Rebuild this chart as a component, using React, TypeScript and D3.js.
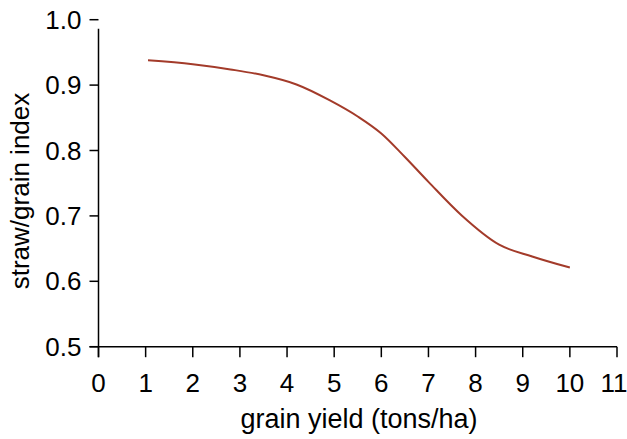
import React from "react";
import * as d3 from "d3";

const yieldTons = [1.05, 2, 2.8, 3.5, 4.2, 4.9, 5.5, 6.0, 6.5, 7.0, 7.7, 8.5, 9.2, 10.0];
const strawIndex = [0.938, 0.932, 0.924, 0.915, 0.901, 0.877, 0.852, 0.826, 0.79, 0.752, 0.701, 0.656, 0.638, 0.621];
const xTicks = [0, 1, 2, 3, 4, 5, 6, 7, 8, 9, 10, 11];
const yTicks = [0.5, 0.6, 0.7, 0.8, 0.9, 1.0];
const xTitle = "grain yield (tons/ha)";
const yTitle = "straw/grain index";

const W = 627;
const H = 439;
const FONT = "'Liberation Sans', Arial, Helvetica, sans-serif";

export default function App() {
  const x = d3.scaleLinear().domain([0, 11]).range([98.5, 617]);
  const y = d3.scaleLinear().domain([0.5, 1.0]).range([346.7, 19.7]);
  const line = d3
    .line<number>()
    .x((_, i) => x(yieldTons[i]))
    .y((d) => y(d))
    .curve(d3.curveMonotoneX);
  const x0 = x(0);
  const y0 = y(0.5);
  return (
    <svg
      width={W}
      height={H}
      style={{ position: "absolute", left: 0, top: 0, background: "#fff" }}
      fontFamily={FONT}
    >
      {/* y axis */}
      <line x1={x0} x2={x0} y1={y(0.986)} y2={y0 + 10.5} stroke="#000" strokeWidth={1.5} />
      {yTicks.map((t) => (
        <g key={"y" + t}>
          <line x1={x0 - 9} x2={x0} y1={y(t)} y2={y(t)} stroke="#000" strokeWidth={1.5} />
          <text x={x0 - 17} y={y(t)} dy="0.35em" textAnchor="end" fontSize={26} fill="#000">
            {t.toFixed(1)}
          </text>
        </g>
      ))}
      {/* x axis */}
      <line x1={x0 - 9} x2={x(11)} y1={y0} y2={y0} stroke="#000" strokeWidth={1.5} />
      {xTicks.map((t) => (
        <g key={"x" + t}>
          <line x1={x(t)} x2={x(t)} y1={y0} y2={y0 + 10.5} stroke="#000" strokeWidth={1.5} />
          <text x={t === 11 ? x(t) - 3 : x(t)} y={392} textAnchor="middle" fontSize={26} fill="#000">
            {t}
          </text>
        </g>
      ))}
      <text x={359} y={428} textAnchor="middle" fontSize={27} fill="#000">
        {xTitle}
      </text>
      <text
        transform={`translate(29,191) rotate(-90)`}
        textAnchor="middle"
        fontSize={26}
        fill="#000"
      >
        {yTitle}
      </text>
      <path d={line(strawIndex) || ""} fill="none" stroke="#A33B2A" strokeWidth={2} />
    </svg>
  );
}
